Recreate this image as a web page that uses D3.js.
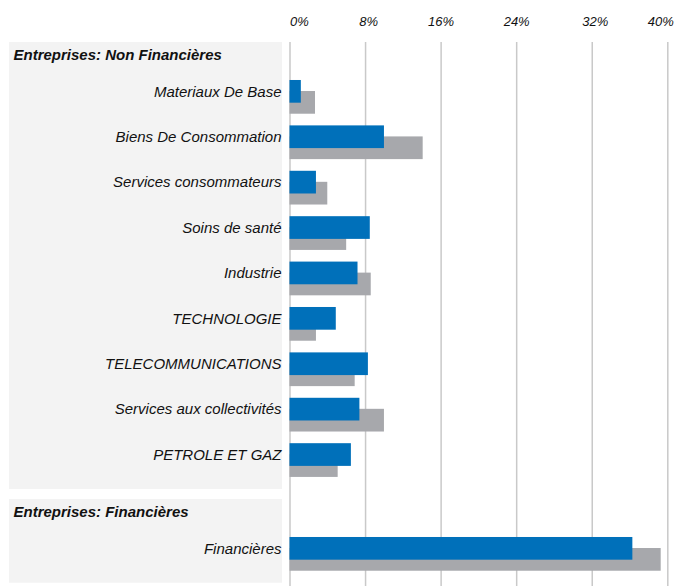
<!DOCTYPE html>
<html>
<head>
<meta charset="utf-8">
<script src="https://cdn.jsdelivr.net/npm/d3@7"></script>
<style>
  body { margin: 0; padding: 0; background: #fff; }
  text { font-family: 'Liberation Sans', Arial, sans-serif; fill: #111; }
</style>
</head>
<body>
<div id="main"></div>
<script>
// sector groups and their rows
const groupTitles = ['Entreprises: Non Financières', 'Entreprises: Financières'];
const nonFinCategories = ['Materiaux De Base', 'Biens De Consommation', 'Services consommateurs', 'Soins de santé',
    'Industrie', 'TECHNOLOGIE', 'TELECOMMUNICATIONS', 'Services aux collectivités', 'PETROLE ET GAZ'];
const finCategories = ['Financières'];

// blue = portfolio weight, grey = benchmark weight (%)
const nonFinBlue = [1.2, 10.0, 2.8, 8.5, 7.2, 4.9, 8.3, 7.4, 6.5];
const nonFinGrey = [2.7, 14.1, 4.0, 6.0, 8.6, 2.8, 6.9, 10.0, 5.1];
const finBlue = [36.3];
const finGrey = [39.3];

const tickValues = [0, 8, 16, 24, 32, 40];

const WIDTH = 675, HEIGHT = 586;
const BLUE = '#0070ba', GREY = '#a7a8ac', PANEL = '#f3f3f3';

const svg = d3.select('#main').append('svg')
    .attr('width', WIDTH)
    .attr('height', HEIGHT)
    .attr('style', 'display: block');

const x = d3.scaleLinear().domain([0, 40]).range([289.5, 667.3]);

// panels: [top, bottom, rows range]
const panels = [
    { title: groupTitles[0], cats: nonFinCategories, blue: nonFinBlue, grey: nonFinGrey, top: 42, bottom: 489, range: [69, 477.6] },
    { title: groupTitles[1], cats: finCategories, blue: finBlue, grey: finGrey, top: 499, bottom: 582.7, range: [526, 571.4] }
];

// grey label panels
panels.forEach((p) => {
    svg.append('rect')
        .attr('x', 9)
        .attr('y', p.top)
        .attr('width', 273)
        .attr('height', p.bottom - p.top)
        .attr('fill', PANEL);
});

// gridlines
const grid = svg.append('g')
    .attr('transform', 'translate(0, 42)')
    .call(d3.axisBottom(x).tickValues(tickValues).tickSize(HEIGHT - 42).tickFormat(''));
grid.select('.domain').remove();
grid.selectAll('line').attr('stroke', '#c9c9c9').attr('stroke-width', 1.5);

// top tick labels
const axisTop = svg.append('g')
    .attr('transform', 'translate(0, 26)')
    .call(d3.axisTop(x).tickValues(tickValues).tickSize(0).tickPadding(0).tickFormat((d) => d + '%'));
axisTop.select('.domain').remove();
axisTop.selectAll('text')
    .attr('font-size', 13)
    .attr('font-style', 'italic')
    .attr('font-family', null)
    .attr('fill', '#111')
    .attr('dy', 0)
    .attr('text-anchor', (d, i) => i === 0 ? 'start' : (i === tickValues.length - 1 ? 'end' : 'middle'))
    .attr('dx', (d, i) => i === tickValues.length - 1 ? 6 : (i === 1 || i === 4 ? 3 : 0));

panels.forEach((p) => {
    const y = d3.scaleBand().domain(p.cats).range(p.range).padding(0);
    const bw = y.bandwidth();
    const barH = bw * 0.5;
    const rows = p.cats.map((c, i) => ({ cat: c, blue: p.blue[i], grey: p.grey[i] }));

    svg.append('text')
        .text(p.title)
        .attr('x', 13.5)
        .attr('y', p.top + 17.5)
        .attr('font-size', 15)
        .attr('font-weight', 'bold')
        .attr('font-style', 'italic');

    const g = svg.append('g');
    g.selectAll('.grey').data(rows).enter().append('rect')
        .attr('class', 'grey')
        .attr('x', x(0))
        .attr('y', (d) => y(d.cat) + bw * 0.485)
        .attr('width', (d) => x(d.grey) - x(0))
        .attr('height', barH)
        .attr('fill', GREY);
    g.selectAll('.blue').data(rows).enter().append('rect')
        .attr('class', 'blue')
        .attr('x', x(0))
        .attr('y', (d) => y(d.cat) + bw * 0.242)
        .attr('width', (d) => x(d.blue) - x(0))
        .attr('height', barH)
        .attr('fill', BLUE);

    g.selectAll('.label').data(rows).enter().append('text')
        .attr('class', 'label')
        .text((d) => d.cat)
        .attr('x', 281.5)
        .attr('y', (d) => y(d.cat) + bw * 0.61)
        .attr('text-anchor', 'end')
        .attr('font-size', 15)
        .attr('font-style', 'italic');
});
</script>
</body>
</html>
